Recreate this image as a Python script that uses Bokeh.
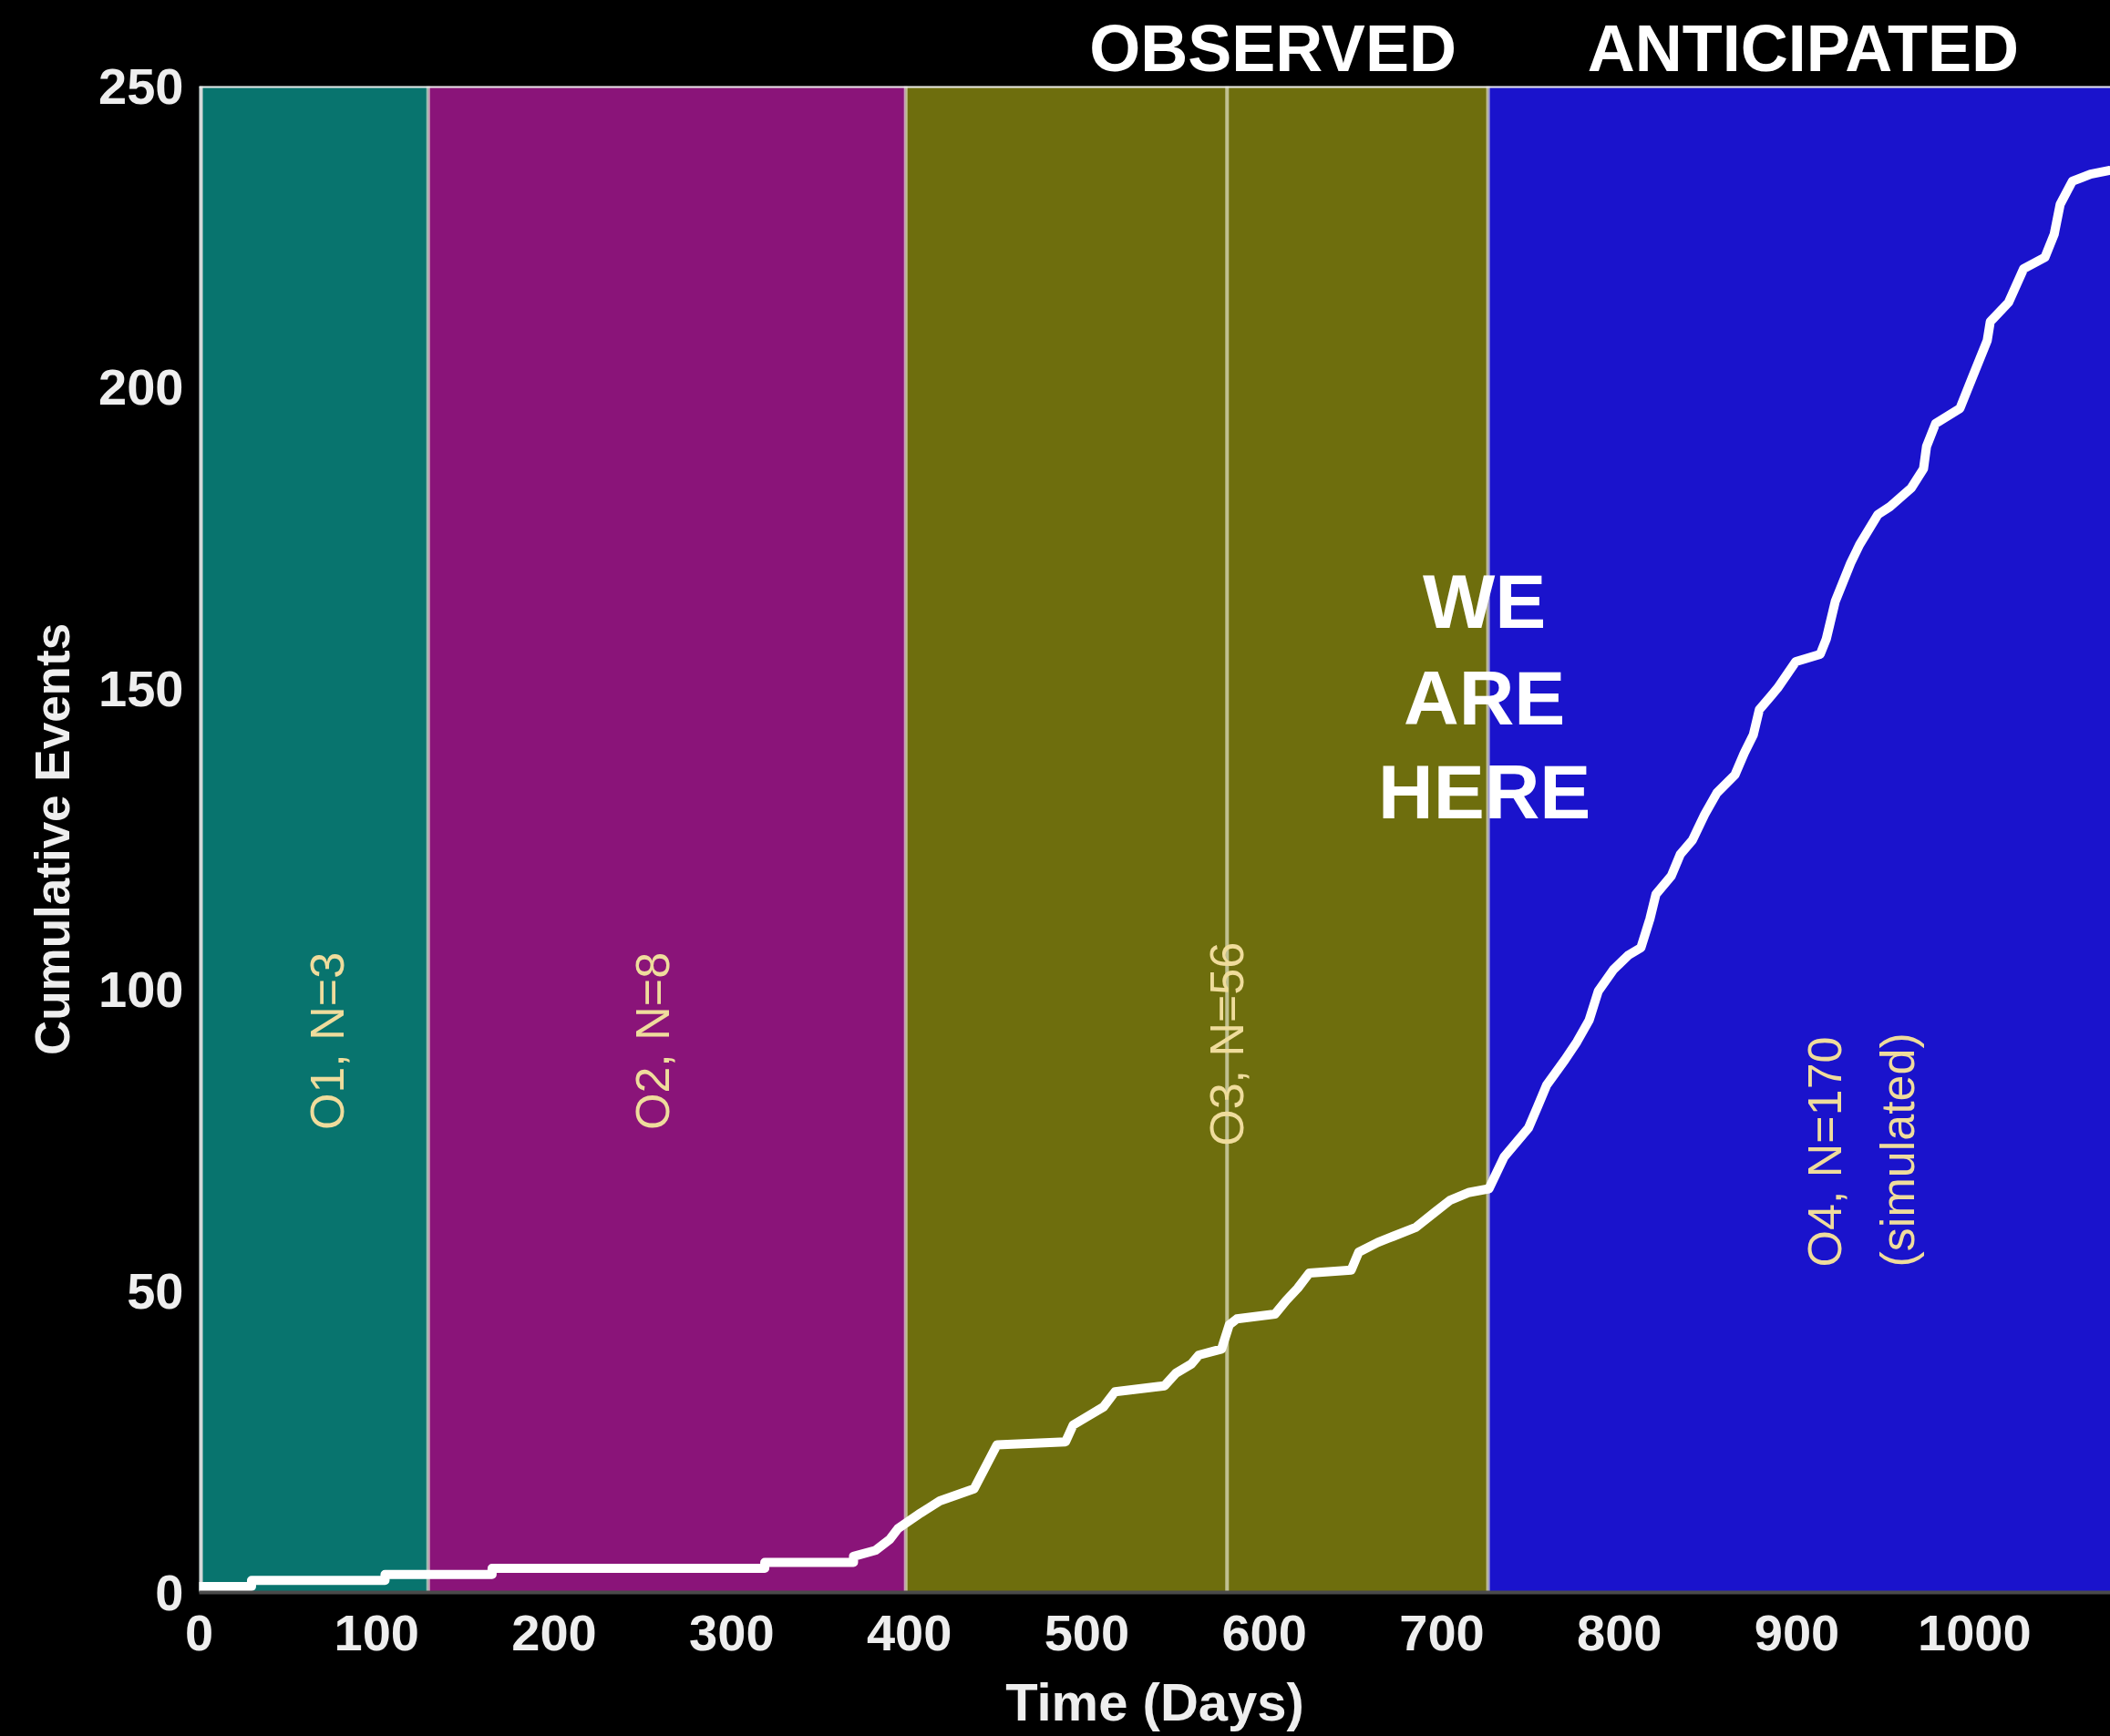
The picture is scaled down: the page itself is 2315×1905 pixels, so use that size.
import math
from bokeh.plotting import figure
from bokeh.models import Range1d, FixedTicker, Span, LinearAxis
from bokeh.core.properties import value
from bokeh.embed import file_html
from bokeh.resources import INLINE

# ---------------- data ----------------
run_start = [0, 129, 398, 726]
run_end = [129, 398, 726, 1100]
run_colors = ["#08746E", "#8A1479", "#6E6E0D", "#1A13CC"]
separators = [129, 398, 579, 726]

run_labels = ["O1, N=3", "O2, N=8", "O3, N=56"]
o4_labels = ["O4, N=170", "(simulated)"]
headings = ["OBSERVED", "ANTICIPATED"]

x_ticks = [0, 100, 200, 300, 400, 500, 600, 700, 800, 900, 1000]
y_ticks = [0, 50, 100, 150, 200, 250]

days = [
    0, 29.5, 29.5, 104.7, 104.7, 165, 165, 318.6, 318.6, 368.6,
    368.6, 381, 389, 393.6, 406.5, 417.2, 436.5, 449.4, 488.0, 492.3,
    500.9, 509.4, 515.9, 543.8, 550.2, 558.8, 563.1, 575.9, 580.2, 584.5,
    606.0, 612.4, 618.8, 625.3, 648.9, 653.2, 663.9, 672.5, 685.3, 696.0,
    704.6, 715.4, 726.5, 735.1, 748.8, 753.9, 759.0, 769.3, 776.1, 783.0,
    788.1, 796.7, 805.2, 812.1, 817.2, 820.6, 829.2, 834.3, 841.2, 848.0,
    854.9, 865.1, 870.3, 875.4, 878.8, 885.7, 889.1, 899.4, 913.1, 916.5,
    921.6, 930.2, 935.3, 945.6, 952.4, 964.4, 971.3, 973.0, 978.1, 991.8,
    998.6, 1007.2, 1008.9, 1019.2, 1027.7, 1039.7, 1044.9, 1048.3, 1055.1, 1065.4,
    1075.7,
]
events = [
    1, 1, 2, 2, 3, 3, 4, 4, 5, 5,
    6, 7, 8.8, 10.6, 13.2, 15.2, 17.2, 24.5, 25.0, 27.8,
    29.3, 30.8, 33.3, 34.3, 36.4, 37.9, 39.4, 40.4, 44.4, 45.4,
    46.2, 48.5, 50.5, 53.0, 53.5, 56.5, 58.1, 59.1, 60.6, 63.1,
    65.1, 66.4, 67.0, 72.3, 77.1, 80.6, 84.2, 88.4, 91.4, 95.0,
    99.8, 103.4, 105.8, 107.0, 111.8, 115.9, 118.9, 122.5, 124.9, 129.1,
    132.7, 135.7, 139.3, 142.3, 146.5, 148.9, 150.1, 154.5, 155.7, 158.2,
    164.5, 170.8, 173.9, 178.9, 180.2, 183.3, 186.5, 190.2, 194.0, 196.5,
    201.5, 207.8, 210.9, 214.1, 219.7, 221.6, 225.4, 230.4, 234.2, 235.4,
    236.0,
]

FONT = "Liberation Sans"
Y_MAX = 250
heading_x = [604.8, 903.5]

# ---------------- figure ----------------
p = figure(width=2315, height=1905, title=None,
           x_range=Range1d(0, 1076.6), y_range=Range1d(0, Y_MAX),
           output_backend="svg", toolbar_location=None,
           background_fill_color="black", border_fill_color="black",
           min_border_left=218, min_border_right=0,
           min_border_top=94, min_border_bottom=158)
p.outline_line_color = None
p.grid.visible = False

xax = p.below[0]
yax = p.left[0]

# observing-run bands
p.quad(left=run_start, right=run_end, bottom=0, top=Y_MAX,
       fill_color=run_colors, line_color=None)

# separators
p.segment(x0=separators, y0=0, x1=separators, y1=Y_MAX,
          line_color="#EDEDD8", line_alpha=0.65, line_width=4)

# left and top frame borders
p.segment(x0=[0], y0=[0], x1=[0], y1=[Y_MAX], line_color="#D8D8D8", line_width=8)
p.add_layout(Span(location=Y_MAX, dimension="width", line_color="#E8E8E8",
                  line_width=4))

# cumulative events curve
p.line(days, events, line_color="white", line_width=10,
       line_join="round", line_cap="round")

# run labels (vertical)
p.text(x=[72, 255.5, 579], y=[91.5, 91.5, 91], text=run_labels,
       angle=math.pi / 2, text_align="center", text_baseline="middle",
       text_font=value(FONT), text_font_size="52px", text_color="#EFDC9C")
p.text(x=[915.5, 956.5], y=[54, 54], text=o4_labels,
       angle=math.pi / 2, text_align="left", text_baseline="middle",
       text_font=value(FONT), text_font_size="52px", text_color="#EFDC9C")

# WE ARE HERE
p.text(x=[724, 724, 724], y=[164.4, 148.5, 132.9], text=["WE", "ARE", "HERE"],
       text_align="center", text_baseline="middle",
       text_font=value(FONT), text_font_style="bold",
       text_font_size="84px", text_color="white")

# axes
for ax in (xax, yax):
    ax.major_tick_line_color = None
    ax.minor_tick_line_color = None
    ax.major_tick_out = 0
    ax.major_tick_in = 0
    ax.major_label_text_font = FONT
    ax.major_label_text_font_style = "bold"
    ax.major_label_text_font_size = "56px"
    ax.major_label_text_color = "#EEEEEE"
    ax.axis_label_text_font = FONT
    ax.axis_label_text_font_style = "bold"
    ax.axis_label_text_color = "#EEEEEE"

xax.axis_label = "Time (Days)"
yax.axis_label = "Cumulative Events"
xax.axis_label_text_font_size = "58px"
yax.axis_label_text_font_size = "53px"
xax.ticker = FixedTicker(ticks=x_ticks)
yax.ticker = FixedTicker(ticks=y_ticks)
xax.major_label_standoff = 25
xax.axis_label_standoff = 21
yax.major_label_standoff = 17
yax.axis_label_standoff = 18
yax.axis_line_color = None
xax.axis_line_color = "#4A4A4A"
xax.axis_line_width = 4

# top headings as labels of an upper axis
top_axis = LinearAxis(ticker=FixedTicker(ticks=heading_x),
                      major_label_overrides={heading_x[0]: headings[0],
                                             heading_x[1]: headings[1]})
top_axis.axis_line_color = None
top_axis.major_tick_line_color = None
top_axis.minor_tick_line_color = None
top_axis.major_tick_out = 0
top_axis.major_tick_in = 0
top_axis.major_label_standoff = 2
top_axis.major_label_text_font = FONT
top_axis.major_label_text_font_style = "bold"
top_axis.major_label_text_font_size = "72px"
top_axis.major_label_text_color = "white"
p.add_layout(top_axis, "above")

tmpl = "{% block preamble %}<style>html, body { background-color: #000000; }</style>{% endblock %}"
open("out.html", "w").write(file_html(p, INLINE, template=tmpl))
